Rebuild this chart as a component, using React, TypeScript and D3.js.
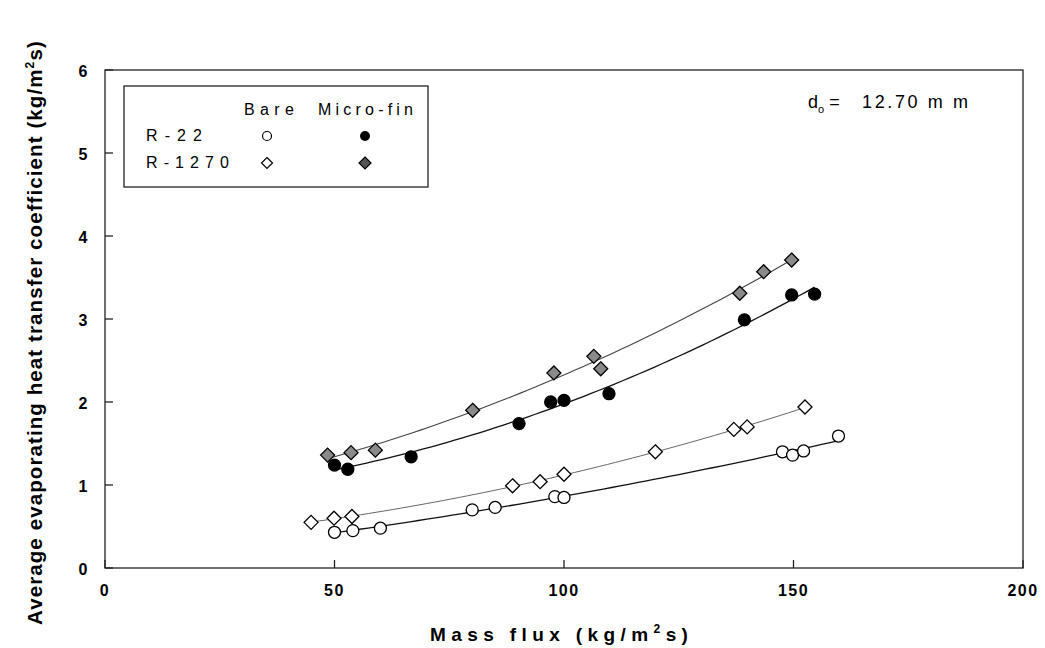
import * as d3 from 'd3';
import React from 'react';

// mass flux (kg/m2s) and coefficient
const r22BareX = [50, 54, 60, 80, 85, 98, 100, 147.6, 149.8, 152.2, 159.8];
const r22BareY = [0.43, 0.45, 0.48, 0.70, 0.73, 0.86, 0.85, 1.40, 1.36, 1.41, 1.59];

const r22FinX = [50, 52.9, 66.7, 90.2, 97.1, 100, 109.8, 139.3, 149.6, 154.6];
const r22FinY = [1.24, 1.19, 1.34, 1.74, 2.0, 2.02, 2.1, 2.99, 3.29, 3.30];

const r1270BareX = [44.9, 49.9, 53.8, 88.8, 94.8, 100, 119.9, 137, 139.9, 152.5];
const r1270BareY = [0.55, 0.60, 0.62, 0.99, 1.04, 1.13, 1.40, 1.67, 1.70, 1.94];

const r1270FinX = [48.5, 53.6, 58.9, 80.1, 97.8, 106.5, 108, 138.3, 143.5, 149.6];
const r1270FinY = [1.36, 1.39, 1.42, 1.90, 2.35, 2.55, 2.40, 3.31, 3.57, 3.71];

const xTicks = [0, 50, 100, 150, 200];
const yTicks = [0, 1, 2, 3, 4, 5, 6];

const W = 1045, H = 648;
const margin = { left: 105, right: 22, top: 70, bottom: 80 };

const x = d3.scaleLinear().domain([0, 200]).range([margin.left, W - margin.right]);
const y = d3.scaleLinear().domain([0, 6]).range([H - margin.bottom, margin.top]);

// quadratic least squares, for the trend curves
function quadFit(xs: number[], ys: number[]) {
  const s = [0, 0, 0, 0, 0];
  const t = [0, 0, 0];
  xs.forEach((xv, i) => {
    for (let k = 0; k < 5; k++) s[k] += Math.pow(xv, k);
    for (let k = 0; k < 3; k++) t[k] += ys[i] * Math.pow(xv, k);
  });
  const A = [
    [s[0], s[1], s[2], t[0]],
    [s[1], s[2], s[3], t[1]],
    [s[2], s[3], s[4], t[2]],
  ];
  for (let i = 0; i < 3; i++) {
    for (let j = i + 1; j < 3; j++) {
      const f = A[j][i] / A[i][i];
      for (let k = i; k < 4; k++) A[j][k] -= f * A[i][k];
    }
  }
  const c = [0, 0, 0];
  for (let i = 2; i >= 0; i--) {
    let v = A[i][3];
    for (let k = i + 1; k < 3; k++) v -= A[i][k] * c[k];
    c[i] = v / A[i][i];
  }
  return (xv: number) => c[0] + c[1] * xv + c[2] * xv * xv;
}

const series = [
  { xs: r22BareX, ys: r22BareY, shape: 'circle', fill: 'white', line: '#111', lw: 1.3 },
  { xs: r22FinX, ys: r22FinY, shape: 'circle', fill: 'black', line: '#111', lw: 1.3 },
  { xs: r1270BareX, ys: r1270BareY, shape: 'diamond', fill: 'white', line: '#666', lw: 1 },
  { xs: r1270FinX, ys: r1270FinY, shape: 'diamond', fill: '#8a8a8a', line: '#444', lw: 1.1 },
];

const diamond = (cx: number, cy: number, r: number) =>
  `M${cx},${cy - r}L${cx + r},${cy}L${cx},${cy + r}L${cx - r},${cy}Z`;

function Marker({ shape, fill, cx, cy }: { shape: string; fill: string; cx: number; cy: number }) {
  if (shape === 'circle')
    return <circle cx={cx} cy={cy} r={6} fill={fill} stroke="black" strokeWidth={1.3} />;
  return <path d={diamond(cx, cy, 7)} fill={fill} stroke="black" strokeWidth={1.3} />;
}

export default function App() {
  const font = '"Liberation Sans", Arial, sans-serif';
  return (
    <svg width={W} height={H} style={{ position: 'absolute', left: 0, top: 0, background: 'white' }}
      fontFamily={font}>
      {/* frame */}
      <rect x={x(0)} y={y(6)} width={x(200) - x(0)} height={y(0) - y(6)} fill="none" stroke="#222" strokeWidth={1.3} />
      {xTicks.map(t => (
        <g key={'x' + t}>
          <line x1={x(t)} x2={x(t)} y1={y(0)} y2={y(0) - 8} stroke="#222" strokeWidth={1.3} />
          <text x={x(t)} y={596} textAnchor="middle" fontSize={16} fontWeight="bold" letterSpacing={1.5}>{t}</text>
        </g>
      ))}
      {yTicks.map(t => (
        <g key={'y' + t}>
          <line x1={x(0)} x2={x(0) + 8} y1={y(t)} y2={y(t)} stroke="#222" strokeWidth={1.3} />
          <text x={83} y={y(t) + 7} textAnchor="middle" fontSize={16} fontWeight="bold">{t}</text>
        </g>
      ))}
      {/* axis titles */}
      <text x={430} y={641} fontSize={19} fontWeight="bold" letterSpacing={5.4}>
        Mass flux (kg/m<tspan dy={-8} fontSize={12}>2</tspan><tspan dy={8}>s)</tspan>
      </text>
      <text transform="translate(42,625) rotate(-90)" fontSize={20.5} fontWeight="bold" letterSpacing={1.1}>
        Average evaporating heat transfer coefficient (kg/m<tspan dy={-8} fontSize={12}>2</tspan><tspan dy={8}>s)</tspan>
      </text>
      {/* fitted curves */}
      {series.map((s, i) => {
        const f = quadFit(s.xs, s.ys);
        const [lo, hi] = d3.extent(s.xs) as [number, number];
        const pts = d3.range(lo, hi + 0.01, (hi - lo) / 60).map(v => [x(v), y(f(v))] as [number, number]);
        return <path key={'l' + i} d={d3.line()(pts) || ''} fill="none" stroke={s.line} strokeWidth={s.lw} />;
      })}
      {series.map((s, i) => (
        <g key={'m' + i}>
          {s.xs.map((xv, j) => (
            <Marker key={j} shape={s.shape} fill={s.fill} cx={x(xv)} cy={y(s.ys[j])} />
          ))}
        </g>
      ))}
      {/* legend */}
      <rect x={124} y={86} width={304} height={101} fill="white" stroke="#222" strokeWidth={1.3} />
      <text x={244} y={115} fontSize={16} textLength={50} lengthAdjust="spacing">Bare</text>
      <text x={318} y={115} fontSize={16} textLength={95} lengthAdjust="spacing">Micro-fin</text>
      <text x={146} y={141} fontSize={16} textLength={56} lengthAdjust="spacing">R-22</text>
      <text x={146} y={168} fontSize={16} textLength={83} lengthAdjust="spacing">R-1270</text>
      <circle cx={267} cy={136} r={4.5} fill="white" stroke="black" strokeWidth={1.2} />
      <circle cx={365} cy={136} r={5} fill="black" />
      <path d={diamond(267, 163, 5.5)} fill="white" stroke="black" strokeWidth={1.2} />
      <path d={diamond(365, 163, 6)} fill="#555" stroke="black" strokeWidth={1.2} />
      {/* annotation */}
      <text x={808} y={108} fontSize={18}>
        d<tspan dy={5} fontSize={11}>o</tspan><tspan dy={-5}> =</tspan>
      </text>
      <text x={862} y={108} fontSize={18} textLength={106} lengthAdjust="spacing">12.70 m m</text>
    </svg>
  );
}
